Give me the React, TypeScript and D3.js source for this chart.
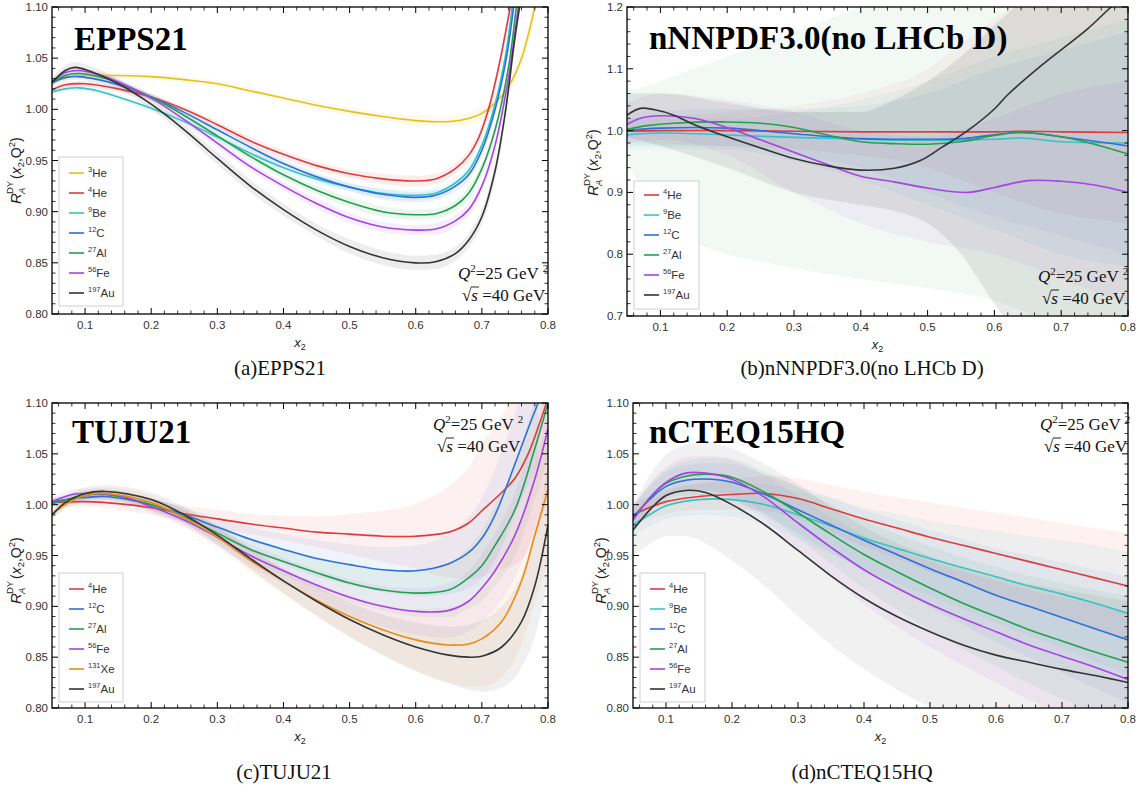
import React from 'react';
import * as d3 from 'd3';

// ---------- colours & labels ----------
const COLORS: Record<string, string> = {
  He3: '#e8bf1c', He4: '#df3b3b', Be9: '#35c3c8', C12: '#2d6fdb', Al27: '#23a04c',
  Fe56: '#a543e6', Xe131: '#ec8b14', Au197: '#333333',
};
const ISO: Record<string, [string, string]> = {
  He3: ['3', 'He'], He4: ['4', 'He'], Be9: ['9', 'Be'], C12: ['12', 'C'], Al27: ['27', 'Al'],
  Fe56: ['56', 'Fe'], Xe131: ['131', 'Xe'], Au197: ['197', 'Au'],
};

const X_DOMAIN = [0.05, 0.8];
const X_TICKS = [0.1, 0.2, 0.3, 0.4, 0.5, 0.6, 0.7, 0.8];
const Y_TICKS_FINE = [0.8, 0.85, 0.9, 0.95, 1.0, 1.05, 1.1];
const Y_TICKS_WIDE = [0.7, 0.8, 0.9, 1.0, 1.1, 1.2];

// ---------- (a) EPPS21 : [x2, R, band half-width] ----------
const epps_He3 = [[0.05,1.028,.003],[0.07,1.031,.003],[0.1,1.033,.003],[0.15,1.033,.003],[0.2,1.032,.003],[0.25,1.029,.003],[0.3,1.025,.003],[0.35,1.018,.003],[0.4,1.011,.003],[0.45,1.004,.004],[0.5,0.998,.004],[0.55,0.993,.004],[0.6,0.989,.005],[0.65,0.988,.005],[0.68,0.991,.006],[0.7,0.996,.006],[0.72,1.006,.007],[0.74,1.022,.008],[0.76,1.05,.009],[0.78,1.1,.01]];
const epps_He4 = [[0.05,1.019,.003],[0.07,1.024,.003],[0.1,1.025,.003],[0.15,1.02,.003],[0.2,1.012,.003],[0.25,1.0,.003],[0.3,0.985,.003],[0.35,0.969,.004],[0.4,0.956,.004],[0.45,0.945,.004],[0.5,0.937,.004],[0.55,0.932,.005],[0.6,0.93,.005],[0.63,0.932,.005],[0.66,0.942,.005],[0.68,0.955,.006],[0.695,0.972,.006],[0.71,1.0,.006],[0.725,1.04,.007],[0.743,1.1,.008]];
const epps_Be9 = [[0.05,1.017,.003],[0.07,1.02,.003],[0.09,1.021,.003],[0.12,1.018,.003],[0.15,1.012,.003],[0.2,1.001,.003],[0.25,0.988,.003],[0.3,0.973,.003],[0.35,0.957,.004],[0.4,0.943,.004],[0.45,0.932,.004],[0.5,0.924,.004],[0.55,0.918,.005],[0.6,0.916,.005],[0.63,0.918,.005],[0.66,0.928,.005],[0.68,0.94,.006],[0.7,0.965,.006],[0.72,1.005,.006],[0.735,1.05,.007],[0.746,1.1,.008]];
const epps_C12 = [[0.05,1.026,.003],[0.07,1.031,.003],[0.09,1.032,.003],[0.12,1.029,.003],[0.15,1.024,.003],[0.2,1.012,.003],[0.25,0.997,.003],[0.3,0.98,.003],[0.35,0.963,.004],[0.4,0.947,.004],[0.45,0.934,.004],[0.5,0.924,.004],[0.55,0.917,.005],[0.6,0.914,.005],[0.63,0.916,.005],[0.66,0.925,.005],[0.68,0.936,.006],[0.7,0.96,.006],[0.72,1.0,.006],[0.737,1.05,.007],[0.748,1.1,.008]];
const epps_Al27 = [[0.05,1.026,.003],[0.07,1.033,.003],[0.09,1.035,.003],[0.12,1.032,.003],[0.15,1.026,.003],[0.2,1.012,.003],[0.25,0.994,.003],[0.3,0.974,.004],[0.35,0.954,.004],[0.4,0.936,.004],[0.45,0.921,.004],[0.5,0.909,.005],[0.55,0.9,.005],[0.6,0.897,.005],[0.63,0.898,.005],[0.66,0.906,.005],[0.68,0.918,.006],[0.7,0.942,.006],[0.72,0.98,.006],[0.74,1.04,.007],[0.752,1.1,.008]];
const epps_Fe56 = [[0.05,1.027,.003],[0.07,1.036,.003],[0.09,1.038,.003],[0.12,1.034,.003],[0.15,1.027,.003],[0.2,1.011,.003],[0.25,0.99,.004],[0.3,0.967,.004],[0.35,0.944,.004],[0.4,0.925,.004],[0.45,0.908,.005],[0.5,0.894,.005],[0.55,0.885,.005],[0.6,0.882,.005],[0.63,0.883,.006],[0.66,0.891,.006],[0.68,0.902,.006],[0.7,0.925,.006],[0.72,0.965,.007],[0.74,1.03,.007],[0.755,1.1,.008]];
const epps_Au197 = [[0.05,1.026,.004],[0.07,1.038,.005],[0.085,1.041,.005],[0.1,1.039,.005],[0.15,1.025,.005],[0.2,1.005,.005],[0.25,0.98,.005],[0.3,0.952,.006],[0.35,0.925,.006],[0.4,0.902,.006],[0.45,0.882,.006],[0.5,0.866,.007],[0.55,0.855,.007],[0.6,0.85,.007],[0.63,0.851,.007],[0.66,0.859,.007],[0.68,0.872,.007],[0.7,0.895,.007],[0.72,0.94,.008],[0.735,0.995,.008],[0.75,1.07,.008],[0.757,1.1,.008]];

// ---------- (b) nNNPDF3.0 : [x2, R] and bands [x2, low, high] ----------
const nn_He4 = [[0.05,0.999],[0.1,1.0],[0.2,1.0],[0.3,0.999],[0.4,0.998],[0.5,0.998],[0.6,0.998],[0.65,0.999],[0.7,0.998],[0.8,0.997]];
const nn_Be9 = [[0.05,0.993],[0.1,0.996],[0.15,0.995],[0.2,0.993],[0.3,0.989],[0.4,0.986],[0.5,0.984],[0.6,0.986],[0.64,0.988],[0.7,0.982],[0.8,0.98]];
const nn_C12 = [[0.05,1.0],[0.1,1.004],[0.2,1.004],[0.3,0.995],[0.4,0.987],[0.5,0.986],[0.55,0.987],[0.64,0.997],[0.7,0.99],[0.8,0.975]];
const nn_Al27 = [[0.05,1.002],[0.08,1.008],[0.12,1.012],[0.2,1.014],[0.25,1.012],[0.3,1.005],[0.35,0.993],[0.4,0.982],[0.45,0.979],[0.5,0.978],[0.55,0.982],[0.6,0.992],[0.64,0.997],[0.7,0.99],[0.75,0.978],[0.8,0.962]];
const nn_Fe56 = [[0.05,1.01],[0.07,1.02],[0.1,1.024],[0.15,1.02],[0.2,1.005],[0.25,0.985],[0.3,0.965],[0.35,0.945],[0.4,0.926],[0.45,0.917],[0.5,0.907],[0.56,0.9],[0.6,0.908],[0.65,0.919],[0.7,0.918],[0.75,0.912],[0.8,0.9]];
const nn_Au197 = [[0.05,1.025],[0.07,1.036],[0.09,1.034],[0.12,1.025],[0.15,1.01],[0.2,0.99],[0.25,0.972],[0.3,0.955],[0.35,0.943],[0.4,0.936],[0.45,0.939],[0.49,0.952],[0.52,0.972],[0.56,1.0],[0.6,1.035],[0.62,1.058],[0.67,1.105],[0.74,1.165],[0.775,1.2],[0.8,1.22]];
const nnBand_He4 = [[0.05,0.98,1.02],[0.2,0.975,1.03],[0.3,0.97,1.04],[0.4,0.96,1.06],[0.5,0.94,1.1],[0.55,0.92,1.14],[0.6,0.9,1.18],[0.65,0.88,1.22],[0.8,0.85,1.3]];
const nnBand_Be9 = [[0.05,0.97,1.02],[0.2,0.97,1.02],[0.3,0.95,1.03],[0.4,0.92,1.05],[0.5,0.88,1.08],[0.6,0.84,1.12],[0.7,0.8,1.15],[0.8,0.78,1.18]];
const nnBand_C12 = [[0.05,0.975,1.03],[0.2,0.975,1.035],[0.3,0.96,1.035],[0.4,0.94,1.04],[0.5,0.9,1.06],[0.6,0.86,1.1],[0.7,0.83,1.13],[0.8,0.8,1.16]];
const nnBand_Al27 = [[0.05,0.95,1.065],[0.08,0.89,1.072],[0.1,0.86,1.08],[0.15,0.82,1.1],[0.2,0.8,1.12],[0.25,0.788,1.14],[0.3,0.778,1.16],[0.35,0.768,1.18],[0.4,0.76,1.2],[0.5,0.745,1.23],[0.6,0.725,1.26],[0.66,0.7,1.28],[0.8,0.65,1.3]];
const nnBand_Fe56 = [[0.05,0.98,1.045],[0.1,0.985,1.06],[0.2,0.96,1.05],[0.3,0.9,1.03],[0.4,0.85,1.0],[0.5,0.82,0.99],[0.6,0.8,1.02],[0.7,0.76,1.06],[0.8,0.72,1.08]];
const nnBand_Au197 = [[0.05,0.99,1.06],[0.1,0.975,1.06],[0.2,0.94,1.045],[0.3,0.9,1.03],[0.4,0.88,1.03],[0.45,0.87,1.05],[0.5,0.85,1.08],[0.55,0.8,1.12],[0.6,0.72,1.17],[0.65,0.65,1.22],[0.8,0.6,1.4]];

// ---------- (c) TUJU21 : [x2, R, band half-width] ----------
const tuju_He4 = [[0.05,1.002,.004],[0.1,1.003,.005],[0.15,1.001,.006],[0.2,0.997,.007],[0.25,0.991,.008],[0.3,0.986,.009],[0.35,0.981,.01],[0.4,0.977,.012],[0.45,0.973,.015],[0.5,0.971,.02],[0.55,0.969,.025],[0.6,0.969,.032],[0.65,0.973,.045],[0.68,0.982,.055],[0.7,0.994,.065],[0.73,1.012,.075],[0.75,1.026,.085],[0.77,1.05,.095],[0.79,1.085,.1],[0.8,1.105,.1]];
const tuju_C12 = [[0.05,1.003,.004],[0.1,1.007,.005],[0.13,1.008,.005],[0.2,1.0,.006],[0.25,0.99,.007],[0.3,0.978,.009],[0.35,0.966,.012],[0.4,0.956,.015],[0.45,0.947,.018],[0.5,0.941,.02],[0.55,0.936,.022],[0.6,0.935,.025],[0.65,0.942,.03],[0.68,0.953,.035],[0.7,0.967,.04],[0.72,0.99,.045],[0.75,1.04,.05],[0.77,1.075,.055],[0.785,1.1,.06]];
const tuju_Al27 = [[0.05,1.001,.004],[0.1,1.009,.005],[0.13,1.01,.005],[0.2,1.0,.006],[0.25,0.988,.007],[0.3,0.972,.009],[0.35,0.956,.011],[0.4,0.944,.013],[0.45,0.933,.016],[0.5,0.923,.018],[0.55,0.916,.02],[0.6,0.913,.023],[0.65,0.916,.027],[0.68,0.928,.03],[0.7,0.94,.035],[0.72,0.96,.04],[0.75,0.995,.045],[0.78,1.055,.05],[0.8,1.1,.055]];
const tuju_Fe56 = [[0.05,1.003,.004],[0.08,1.01,.005],[0.1,1.011,.005],[0.15,1.009,.005],[0.2,0.998,.006],[0.25,0.985,.007],[0.3,0.968,.009],[0.35,0.95,.011],[0.4,0.935,.013],[0.45,0.921,.015],[0.5,0.909,.018],[0.55,0.9,.02],[0.6,0.895,.023],[0.65,0.896,.027],[0.68,0.905,.03],[0.7,0.918,.033],[0.72,0.935,.037],[0.75,0.97,.042],[0.78,1.025,.047],[0.8,1.075,.05]];
const tuju_Xe131 = [[0.05,0.99,.004],[0.07,1.0,.005],[0.1,1.009,.005],[0.13,1.011,.006],[0.2,1.002,.007],[0.25,0.987,.008],[0.3,0.968,.009],[0.35,0.945,.011],[0.4,0.925,.013],[0.45,0.906,.016],[0.5,0.89,.02],[0.55,0.877,.025],[0.6,0.867,.03],[0.65,0.862,.037],[0.68,0.863,.042],[0.7,0.868,.047],[0.73,0.885,.055],[0.76,0.925,.062],[0.78,0.97,.067],[0.8,1.015,.07]];
const tuju_Au197 = [[0.05,0.99,.004],[0.07,1.002,.005],[0.1,1.011,.006],[0.13,1.013,.006],[0.2,1.005,.007],[0.25,0.99,.008],[0.3,0.97,.009],[0.35,0.947,.01],[0.4,0.925,.012],[0.45,0.905,.014],[0.5,0.887,.017],[0.55,0.872,.02],[0.6,0.86,.024],[0.65,0.852,.028],[0.68,0.85,.032],[0.7,0.851,.035],[0.73,0.86,.04],[0.76,0.885,.045],[0.78,0.92,.05],[0.8,0.98,.055]];

// ---------- (d) nCTEQ15HQ : [x2, R, band half-width] ----------
const ncteq_He4 = [[0.05,0.99,.01],[0.1,1.003,.012],[0.15,1.008,.013],[0.2,1.01,.015],[0.25,1.011,.017],[0.3,1.006,.02],[0.35,0.996,.023],[0.4,0.986,.027],[0.45,0.977,.03],[0.5,0.968,.034],[0.55,0.96,.037],[0.6,0.952,.04],[0.65,0.944,.043],[0.7,0.936,.046],[0.75,0.928,.049],[0.8,0.92,.052]];
const ncteq_Be9 = [[0.05,0.98,.01],[0.08,0.992,.012],[0.1,0.999,.013],[0.15,1.005,.015],[0.2,1.005,.017],[0.25,1.0,.02],[0.3,0.99,.023],[0.35,0.979,.027],[0.4,0.967,.03],[0.45,0.957,.034],[0.5,0.947,.037],[0.55,0.938,.041],[0.6,0.929,.045],[0.65,0.92,.049],[0.7,0.912,.053],[0.75,0.903,.057],[0.8,0.893,.06]];
const ncteq_C12 = [[0.05,0.988,.012],[0.08,1.008,.013],[0.1,1.018,.014],[0.13,1.024,.015],[0.17,1.025,.016],[0.2,1.022,.018],[0.25,1.01,.02],[0.3,0.995,.023],[0.35,0.98,.027],[0.4,0.965,.03],[0.45,0.951,.034],[0.5,0.937,.038],[0.55,0.924,.042],[0.6,0.911,.046],[0.65,0.9,.05],[0.7,0.889,.054],[0.75,0.878,.058],[0.8,0.867,.062]];
const ncteq_Al27 = [[0.05,0.986,.012],[0.08,1.01,.013],[0.1,1.021,.014],[0.13,1.028,.015],[0.16,1.03,.016],[0.2,1.027,.018],[0.25,1.012,.021],[0.3,0.992,.025],[0.35,0.971,.029],[0.4,0.951,.033],[0.45,0.934,.037],[0.5,0.918,.041],[0.55,0.903,.045],[0.6,0.89,.049],[0.65,0.877,.053],[0.7,0.866,.057],[0.75,0.855,.061],[0.8,0.845,.065]];
const ncteq_Fe56 = [[0.05,0.985,.013],[0.08,1.01,.014],[0.1,1.022,.015],[0.13,1.031,.016],[0.16,1.031,.017],[0.2,1.025,.019],[0.25,1.007,.022],[0.3,0.982,.026],[0.35,0.958,.03],[0.4,0.936,.034],[0.45,0.918,.038],[0.5,0.902,.042],[0.55,0.888,.046],[0.6,0.875,.05],[0.65,0.862,.054],[0.7,0.851,.058],[0.75,0.84,.062],[0.8,0.828,.066]];
const ncteq_Au197 = [[0.05,0.975,.025],[0.08,0.998,.035],[0.1,1.009,.04],[0.13,1.014,.045],[0.16,1.012,.05],[0.2,1.0,.055],[0.25,0.98,.06],[0.3,0.955,.065],[0.35,0.93,.068],[0.4,0.908,.07],[0.45,0.89,.072],[0.5,0.875,.074],[0.55,0.862,.075],[0.6,0.852,.076],[0.65,0.845,.077],[0.7,0.838,.078],[0.75,0.832,.079],[0.8,0.825,.08]];

// ---------- panel configuration ----------
type Series = { key: string; pts: number[][]; band: number[][]; op?: number };
const withErr = (key: string, pts: number[][]): Series => ({
  key, pts: pts.map(p => [p[0], p[1]]), band: pts.map(p => [p[0], p[1] - p[2], p[1] + p[2]]),
});

const PANELS = [
  {
    id: 'a', left: 52, top: 7, right: 548, bottom: 314, yDomain: [0.8, 1.1], yTicks: Y_TICKS_FINE, yMinor: 0.01, yFmt: '.2f',
    title: 'EPPS21', titleX: 74, titleY: 50, caption: '(a)EPPS21', capX: 280, capY: 375,
    legend: { x: 59, y: 157, w: 64, h: 149, first: 173 }, note: { x: 458, y: 279 },
    ylab: { x: 16, y: 168 }, bandOpacity: 0.09,
    series: [withErr('He3', epps_He3), withErr('He4', epps_He4), withErr('Be9', epps_Be9), withErr('C12', epps_C12),
      withErr('Al27', epps_Al27), withErr('Fe56', epps_Fe56), withErr('Au197', epps_Au197)],
  },
  {
    id: 'b', left: 627, top: 7, right: 1128, bottom: 316, yDomain: [0.7, 1.2], yTicks: Y_TICKS_WIDE, yMinor: 0.02, yFmt: '.1f',
    title: 'nNNPDF3.0(no LHCb D)', titleX: 649, titleY: 49, caption: '(b)nNNPDF3.0(no LHCb D)', capX: 862, capY: 375,
    legend: { x: 634, y: 181, w: 65, h: 128, first: 195 }, note: { x: 1038, y: 282 },
    ylab: { x: 593, y: 160 }, bandOpacity: 0.07,
    series: [
      { key: 'He4', pts: nn_He4, band: nnBand_He4, op: 0.05 }, { key: 'Be9', pts: nn_Be9, band: nnBand_Be9, op: 0.06 },
      { key: 'C12', pts: nn_C12, band: nnBand_C12, op: 0.06 }, { key: 'Al27', pts: nn_Al27, band: nnBand_Al27, op: 0.06 },
      { key: 'Fe56', pts: nn_Fe56, band: nnBand_Fe56, op: 0.07 }, { key: 'Au197', pts: nn_Au197, band: nnBand_Au197, op: 0.1 },
    ],
  },
  {
    id: 'c', left: 52, top: 403, right: 548, bottom: 708, yDomain: [0.8, 1.1], yTicks: Y_TICKS_FINE, yMinor: 0.01, yFmt: '.2f',
    title: 'TUJU21', titleX: 72, titleY: 443, caption: '(c)TUJU21', capX: 284, capY: 779,
    legend: { x: 59, y: 573, w: 64, h: 129, first: 589 }, note: { x: 433, y: 430 },
    ylab: { x: 16, y: 568 }, bandOpacity: 0.075,
    series: [withErr('He4', tuju_He4), withErr('C12', tuju_C12), withErr('Al27', tuju_Al27), withErr('Fe56', tuju_Fe56),
      withErr('Xe131', tuju_Xe131), withErr('Au197', tuju_Au197)],
  },
  {
    id: 'd', left: 633, top: 403, right: 1128, bottom: 708, yDomain: [0.8, 1.1], yTicks: Y_TICKS_FINE, yMinor: 0.01, yFmt: '.2f',
    title: 'nCTEQ15HQ', titleX: 649, titleY: 443, caption: '(d)nCTEQ15HQ', capX: 862, capY: 779,
    legend: { x: 640, y: 573, w: 65, h: 129, first: 589 }, note: { x: 1040, y: 430 },
    ylab: { x: 601, y: 568 }, bandOpacity: 0.07,
    series: [withErr('He4', ncteq_He4), withErr('Be9', ncteq_Be9), withErr('C12', ncteq_C12), withErr('Al27', ncteq_Al27),
      withErr('Fe56', ncteq_Fe56), withErr('Au197', ncteq_Au197)],
  },
];

const SANS = 'Liberation Sans, Arial, Helvetica, sans-serif';
const SERIF = 'Liberation Serif, Times New Roman, serif';

function YLabel({ cx, cy }: { cx: number; cy: number }) {
  return (
    <g transform={`translate(${cx},${cy}) rotate(-90)`} fontFamily={SANS} fill="#222">
      <text x={-36} y={5} fontSize={15} fontStyle="italic">R</text>
      <text x={-26} y={-3} fontSize={9.5}>DY</text>
      <text x={-26} y={9} fontSize={9.5} fontStyle="italic">A</text>
      <text x={-11} y={5} fontSize={14}>
        (<tspan fontStyle="italic">x</tspan><tspan fontSize={9.5} dy={3}>2</tspan>
        <tspan dy={-3}>,Q</tspan><tspan fontSize={9.5} dy={-6}>2</tspan><tspan dy={6}>)</tspan>
      </text>
    </g>
  );
}

function Note({ x, y }: { x: number; y: number }) {
  return (
    <g fontFamily={SERIF} fill="#111" fontSize={17}>
      <text x={x} y={y}>
        <tspan fontStyle="italic">Q</tspan><tspan fontSize={11} dy={-7}>2</tspan>
        <tspan dy={7}>=25 GeV </tspan><tspan fontSize={11} dy={-7}>2</tspan>
      </text>
      <text x={x + 4} y={y + 22}>
        √<tspan fontStyle="italic">s</tspan> =40 GeV
      </text>
      <line x1={x + 13} x2={x + 21} y1={y + 8} y2={y + 8} stroke="#111" strokeWidth={0.9} />
    </g>
  );
}

function Panel({ cfg }: { cfg: any }) {
  const x = d3.scaleLinear().domain(X_DOMAIN).range([cfg.left, cfg.right]);
  const y = d3.scaleLinear().domain(cfg.yDomain).range([cfg.bottom, cfg.top]);
  const curve = d3.curveCatmullRom.alpha(0.5);
  const line = d3.line<number[]>().x(d => x(d[0])).y(d => y(d[1])).curve(curve);
  const area = d3.area<number[]>().x(d => x(d[0])).y0(d => y(d[1])).y1(d => y(d[2])).curve(d3.curveMonotoneX);
  const fmt = d3.format(cfg.yFmt);
  const clipId = `clip-${cfg.id}`;

  const xMinor: number[] = [];
  for (let i = 3; i <= 40; i++) if (i % 5 !== 0) xMinor.push(i * 0.02);
  const yMinor: number[] = [];
  const [y0, y1] = cfg.yDomain;
  const n0 = Math.round(y0 / cfg.yMinor), n1 = Math.round(y1 / cfg.yMinor);
  for (let i = n0; i <= n1; i++) if (i % 5 !== 0) yMinor.push(i * cfg.yMinor);

  const W = cfg.right - cfg.left, H = cfg.bottom - cfg.top;
  const leg = cfg.legend;

  return (
    <g>
      <defs>
        <clipPath id={clipId}><rect x={cfg.left} y={cfg.top} width={W} height={H} /></clipPath>
      </defs>
      <g clipPath={`url(#${clipId})`}>
        {cfg.series.map((s: Series) => (
          <path key={'b' + s.key} d={area(s.band) || ''} fill={COLORS[s.key]} fillOpacity={s.op ?? cfg.bandOpacity} stroke="none" />
        ))}
        {cfg.series.map((s: Series) => (
          <path key={'l' + s.key} d={line(s.pts) || ''} fill="none" stroke={COLORS[s.key]} strokeWidth={1.6} />
        ))}
      </g>
      {/* title */}
      <text x={cfg.titleX} y={cfg.titleY} fontFamily={SERIF} fontWeight="bold" fontSize={33} fill="#000">{cfg.title}</text>
      {/* frame */}
      <rect x={cfg.left} y={cfg.top} width={W} height={H} fill="none" stroke="#000" strokeWidth={1.3} />
      {/* x ticks */}
      {X_TICKS.map(t => (
        <g key={'xt' + t}>
          <line x1={x(t)} x2={x(t)} y1={cfg.bottom} y2={cfg.bottom - 6} stroke="#000" strokeWidth={1} />
          <line x1={x(t)} x2={x(t)} y1={cfg.top} y2={cfg.top + 6} stroke="#000" strokeWidth={1} />
          <text x={x(t)} y={cfg.bottom + 15} textAnchor="middle" fontFamily={SANS} fontSize={11.5} fill="#333">{d3.format('.1f')(t)}</text>
        </g>
      ))}
      {xMinor.map(t => (
        <g key={'xm' + t}>
          <line x1={x(t)} x2={x(t)} y1={cfg.bottom} y2={cfg.bottom - 3.5} stroke="#000" strokeWidth={0.8} />
          <line x1={x(t)} x2={x(t)} y1={cfg.top} y2={cfg.top + 3.5} stroke="#000" strokeWidth={0.8} />
        </g>
      ))}
      {/* y ticks */}
      {cfg.yTicks.map((t: number) => (
        <g key={'yt' + t}>
          <line x1={cfg.left} x2={cfg.left + 6} y1={y(t)} y2={y(t)} stroke="#000" strokeWidth={1} />
          <line x1={cfg.right} x2={cfg.right - 6} y1={y(t)} y2={y(t)} stroke="#000" strokeWidth={1} />
          <text x={cfg.left - 4} y={y(t) + 4} textAnchor="end" fontFamily={SANS} fontSize={11.5} fill="#333">{fmt(t)}</text>
        </g>
      ))}
      {yMinor.map(t => (
        <g key={'ym' + t}>
          <line x1={cfg.left} x2={cfg.left + 3.5} y1={y(t)} y2={y(t)} stroke="#000" strokeWidth={0.8} />
          <line x1={cfg.right} x2={cfg.right - 3.5} y1={y(t)} y2={y(t)} stroke="#000" strokeWidth={0.8} />
        </g>
      ))}
      {/* axis labels */}
      <text x={(cfg.left + cfg.right) / 2} y={cfg.bottom + 33} textAnchor="middle" fontFamily={SANS} fontSize={13} fill="#222">
        <tspan fontStyle="italic">x</tspan><tspan fontSize={9} dy={3}>2</tspan>
      </text>
      <YLabel cx={cfg.ylab.x} cy={cfg.ylab.y} />
      {/* legend */}
      <rect x={leg.x} y={leg.y} width={leg.w} height={leg.h} fill="#fff" stroke="#cfcfcf" strokeWidth={1} />
      {cfg.series.map((s: Series, i: number) => {
        const ly = leg.first + i * 20;
        const [num, el] = ISO[s.key];
        return (
          <g key={'lg' + s.key}>
            <line x1={leg.x + 10} x2={leg.x + 25} y1={ly} y2={ly} stroke={COLORS[s.key]} strokeWidth={1.6} />
            <text x={leg.x + 29} y={ly + 4} fontFamily={SANS} fontSize={11.5} fill="#333">
              <tspan fontSize={7.5} dy={-5}>{num}</tspan><tspan dy={5}>{el}</tspan>
            </text>
          </g>
        );
      })}
      <Note x={cfg.note.x} y={cfg.note.y} />
      {/* caption */}
      <text x={cfg.capX} y={cfg.capY} textAnchor="middle" fontFamily={SERIF} fontSize={21} fill="#111">{cfg.caption}</text>
    </g>
  );
}

export default function App() {
  return (
    <svg width={1141} height={794} style={{ position: 'absolute', left: 0, top: 0, background: '#fff' }}>
      <rect x={0} y={0} width={1141} height={794} fill="#fff" />
      {PANELS.map(p => <Panel key={p.id} cfg={p} />)}
    </svg>
  );
}
